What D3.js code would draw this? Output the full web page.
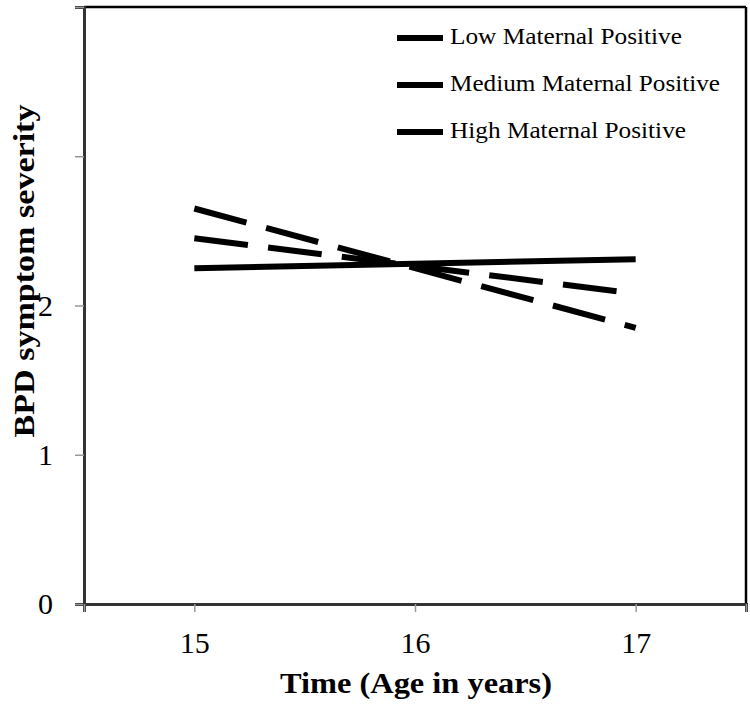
<!DOCTYPE html>
<html>
<head>
<meta charset="utf-8">
<script src="https://cdn.jsdelivr.net/npm/d3@7"></script>
<style>
html,body{margin:0;padding:0;background:#fff;}
svg{display:block;}
</style>
</head>
<body>
<svg id="chart" width="750" height="704"></svg>
<script>
// ---- data ----
const ages = [15, 16, 17];
const lowMaternal = [2.25, 2.28, 2.31];
const mediumMaternal = [2.45, 2.265, 2.08];
const highMaternal = [2.65, 2.25, 1.85];
const seriesNames = ["Low Maternal Positive", "Medium Maternal Positive", "High Maternal Positive"];
const yTickValues = [0, 1, 2, 3, 4];
const yTickLabels = ["0", "1", "2", "", ""];
const xTickValues = [15, 16, 17];
const xTickLabels = ["15", "16", "17"];

const series = [
  {name: seriesNames[0], values: lowMaternal, dash: null, legendWidth: 232},
  {name: seriesNames[1], values: mediumMaternal, dash: "54,20.3", legendWidth: 270},
  {name: seriesNames[2], values: highMaternal, dash: "54,20.3", legendWidth: 236}
];

const svg = d3.select("#chart");
const pLeft = 84, pRight = 746, pTop = 7, pBottom = 604;
const x = d3.scaleLinear().domain([14.5, 17.5]).range([pLeft, pRight]);
const y = d3.scaleLinear().domain([0, 4]).range([pBottom, pTop]);
const font = "'Liberation Serif','Times New Roman',serif";

// frame top/right
svg.append("line").attr("x1", pLeft).attr("x2", pRight).attr("y1", pTop).attr("y2", pTop)
  .attr("stroke", "#000").attr("stroke-width", 2.5);
svg.append("line").attr("x1", pRight).attr("x2", pRight).attr("y1", pTop).attr("y2", pBottom)
  .attr("stroke", "#000").attr("stroke-width", 2.5);

// y axis
const yAxis = d3.axisLeft(y).tickValues(yTickValues)
  .tickFormat((d, i) => yTickLabels[i]).tickSize(9).tickPadding(22);
const gy = svg.append("g").attr("transform", `translate(${pLeft},0)`).call(yAxis);
gy.attr("font-family", null).attr("font-size", null);
gy.select(".domain").attr("stroke", "#333").attr("stroke-width", 3);
gy.selectAll(".tick line").attr("stroke", "#999").attr("stroke-width", 1.5);
gy.selectAll(".tick text").style("font-family", font).style("font-size", "30px").attr("fill", "#000")
  .attr("dy", "0.33em");

// x axis (ticks at domain edges too)
const xAxis = d3.axisBottom(x).tickValues([14.5].concat(xTickValues, [17.5]))
  .tickFormat(d => { const i = xTickValues.indexOf(d); return i >= 0 ? xTickLabels[i] : ""; })
  .tickSize(8).tickPadding(20);
const gx = svg.append("g").attr("transform", `translate(0,${pBottom})`).call(xAxis);
gx.attr("font-family", null).attr("font-size", null);
gx.select(".domain").attr("stroke", "#333").attr("stroke-width", 3);
gx.selectAll(".tick line").attr("stroke", "#999").attr("stroke-width", 1.5);
gx.selectAll(".tick text").style("font-family", font).style("font-size", "30px").attr("fill", "#000");

// lines
const line = d3.line().x((d, i) => x(ages[i])).y(d => y(d));
svg.selectAll(".series").data(series).enter().append("path")
  .attr("class", "series")
  .attr("d", d => line(d.values))
  .attr("fill", "none").attr("stroke", "#000").attr("stroke-width", 6)
  .attr("stroke-dasharray", d => d.dash);

// legend
const lg = svg.append("g");
series.forEach((s, i) => {
  const cy = 38 + i * 47;
  lg.append("line").attr("x1", 397).attr("x2", 443).attr("y1", cy).attr("y2", cy)
    .attr("stroke", "#000").attr("stroke-width", 6);
  lg.append("text").attr("x", 450).attr("y", cy + 6).text(s.name)
    .attr("textLength", s.legendWidth).attr("lengthAdjust", "spacingAndGlyphs")
    .style("font-family", font).style("font-size", "23px").attr("fill", "#000");
});

// axis titles
svg.append("text").attr("transform", "translate(34,271) rotate(-90)")
  .attr("text-anchor", "middle").style("font-family", font).style("font-weight", "bold")
  .style("font-size", "30px").attr("textLength", 333).attr("lengthAdjust", "spacingAndGlyphs")
  .text("BPD symptom severity");
svg.append("text").attr("x", 416).attr("y", 693)
  .attr("text-anchor", "middle").style("font-family", font).style("font-weight", "bold")
  .style("font-size", "30px").attr("textLength", 272).attr("lengthAdjust", "spacingAndGlyphs")
  .text("Time (Age in years)");
</script>
</body>
</html>
